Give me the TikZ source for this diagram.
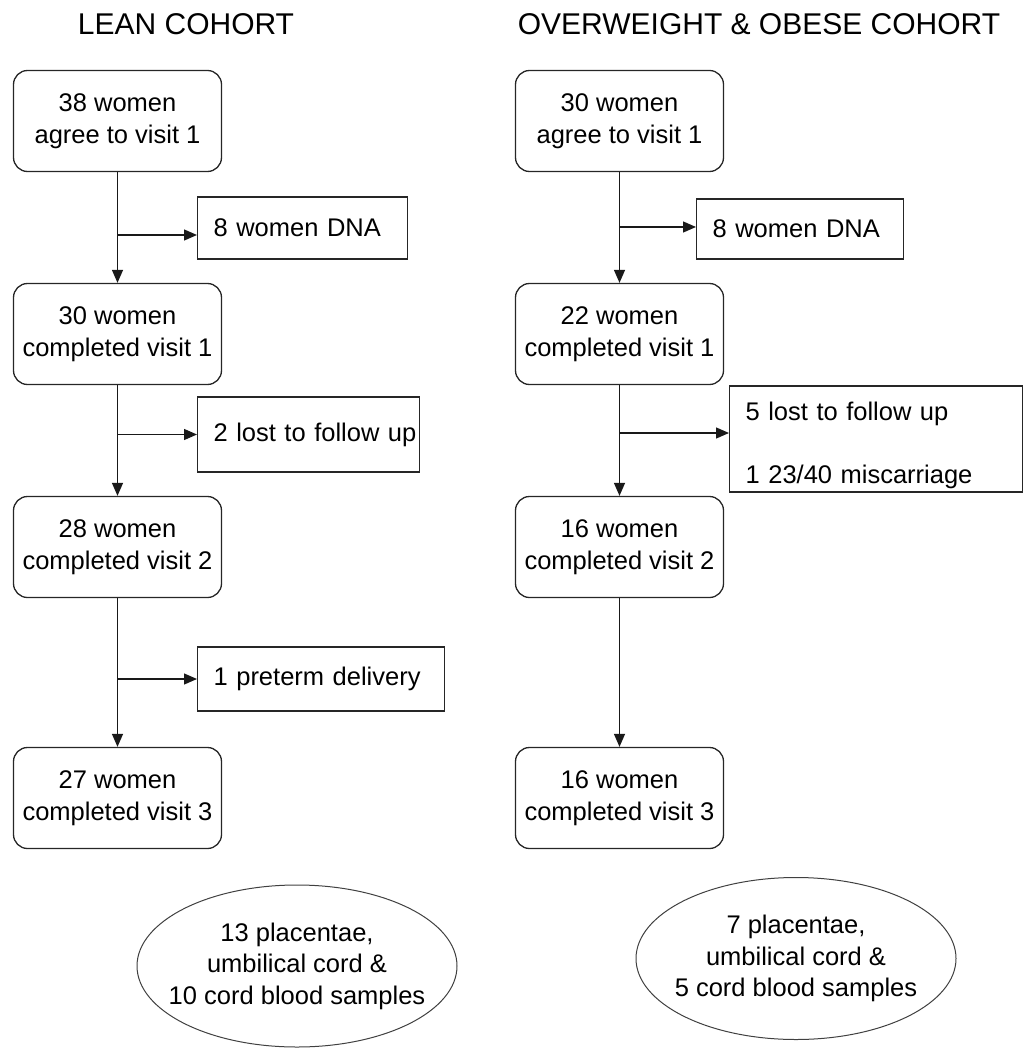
\documentclass[tikz,border=0pt]{standalone}
\usepackage{fontspec}
\setmainfont{Liberation Sans}
\usetikzlibrary{arrows.meta,shapes.geometric}
\newcommand\boxfont{\fontsize{25.5pt}{31.5pt}\selectfont}
\newcommand\headfont{\fontsize{30pt}{36pt}\selectfont}

\begin{document}
\begin{tikzpicture}[x=1pt,y=-1pt,
  stage/.style={draw=black!85, line width=1.3pt, rounded corners=14pt, minimum width=208pt, minimum height=101pt, align=center, font=\boxfont},
  loss/.style={draw=black!85, line width=1.3pt, anchor=west, align=left, inner xsep=16pt, font=\boxfont},
  yield/.style={draw=black!75, line width=1pt, ellipse, minimum width=320pt, minimum height=162pt, inner sep=0pt},
  arr/.style={draw=black!90, line width=1.3pt, -{Triangle[length=13pt,width=11pt]}}]
\useasboundingbox (0,0) rectangle (1031,1048);

\node[font=\headfont] (lhead) at (186,24) {LEAN COHORT};
\node[font=\headfont] (ohead) at (759,24) {OVERWEIGHT \& OBESE COHORT};

% lean cohort
\node[stage] (l1) at (117.5,121) {38 women\\agree to visit 1};
\node[stage] (l2) at (117.5,334) {30 women\\completed visit 1};
\node[stage] (l3) at (117.5,547) {28 women\\completed visit 2};
\node[stage] (l4) at (117.5,798) {27 women\\completed visit 3};
\node[loss, text width=178pt, minimum height=62pt] (ld) at (197,228) {8 women DNA};
\node[loss, text width=190pt, minimum height=75pt] (ll) at (197,434.5) {\mbox{2 lost to follow up}};
\node[loss, text width=215pt, minimum height=64pt] (lp) at (197,679) {1 preterm delivery};

\draw[arr] (l1) -- (l2);
\draw[arr] (l2) -- (l3);
\draw[arr] (l3) -- (l4);
\coordinate (ldin) at ([yshift=-7pt]ld.west);
\draw[arr] (l1 |- ldin) -- (ldin);
\draw[arr] (l2 |- ll.west) -- (ll.west);
\draw[arr] (l3 |- lp.west) -- (lp.west);

% overweight & obese cohort
\node[stage] (o1) at (619.5,121) {30 women\\agree to visit 1};
\node[stage] (o2) at (619.5,334) {22 women\\completed visit 1};
\node[stage] (o3) at (619.5,547) {16 women\\completed visit 2};
\node[stage] (o4) at (619.5,798) {16 women\\completed visit 3};
\node[loss, text width=175pt, minimum height=60pt] (od) at (696,229) {8 women DNA};
\node[loss, text width=261pt, minimum height=104pt] (ol) at (729,439) {\rule{0pt}{31pt}5 lost to follow up\\[31.5pt]1 23/40 miscarriage};

\draw[arr] (o1) -- (o2);
\draw[arr] (o2) -- (o3);
\draw[arr] (o3) -- (o4);
\coordinate (odin) at ([yshift=2pt]od.west);
\draw[arr] (o1 |- odin) -- (odin);
\coordinate (olin) at ([yshift=6pt]ol.west);
\draw[arr] (o2 |- olin) -- (olin);

% samples
\node[yield] (lcell) at (297,966) {};
\node[align=center, font=\boxfont] (lctxt) at (lcell) {13 placentae,\\umbilical cord \&\\10 cord blood samples};
\node[yield] (ocell) at (796,958.5) {};
\node[align=center, font=\boxfont] (octxt) at (ocell) {7 placentae,\\umbilical cord \&\\5 cord blood samples};
\end{tikzpicture}
\end{document}
